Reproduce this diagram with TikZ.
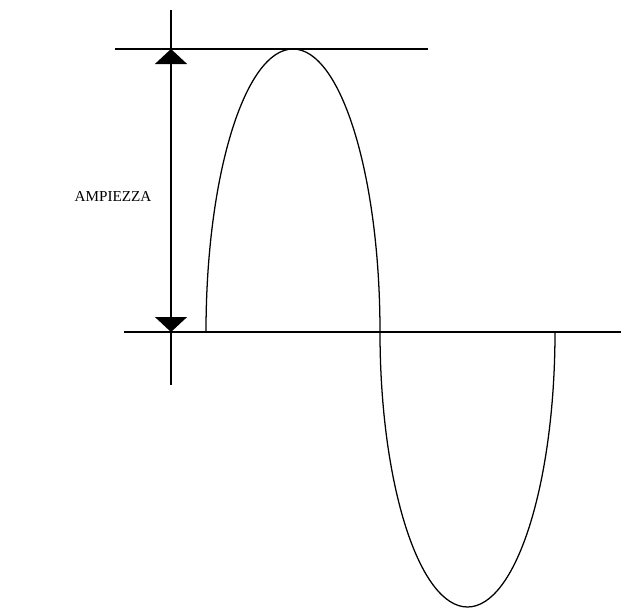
\documentclass[tikz,border=0pt]{standalone}
\usepackage{fontspec}
\setmainfont{Liberation Serif}
\usetikzlibrary{arrows.meta}

\begin{document}
\begin{tikzpicture}[x=0.025cm, y=-0.025cm, line width=0.9pt]
\useasboundingbox (0,0) rectangle (621,612);
% reference lines
\draw (124,332) -- (621,332);
\draw (115,49) -- (428,49);
\draw (171,10) -- (171,385);
\coordinate (top) at (171,49);
\coordinate (base) at (171,332);
\draw[{Triangle[width=32*0.025cm, length=15*0.025cm]}-{Triangle[width=32*0.025cm, length=15*0.025cm]}]
  (top) -- (base);
\node[font=\fontsize{10.8}{13}\selectfont] (amp) at (113,196) {AMPIEZZA};
% the wave
\draw (206,332) arc[start angle=180, end angle=360, x radius=87, y radius=283];
\draw (380,332) arc[start angle=180, end angle=0, x radius=87.5, y radius=275];
\end{tikzpicture}
\end{document}
